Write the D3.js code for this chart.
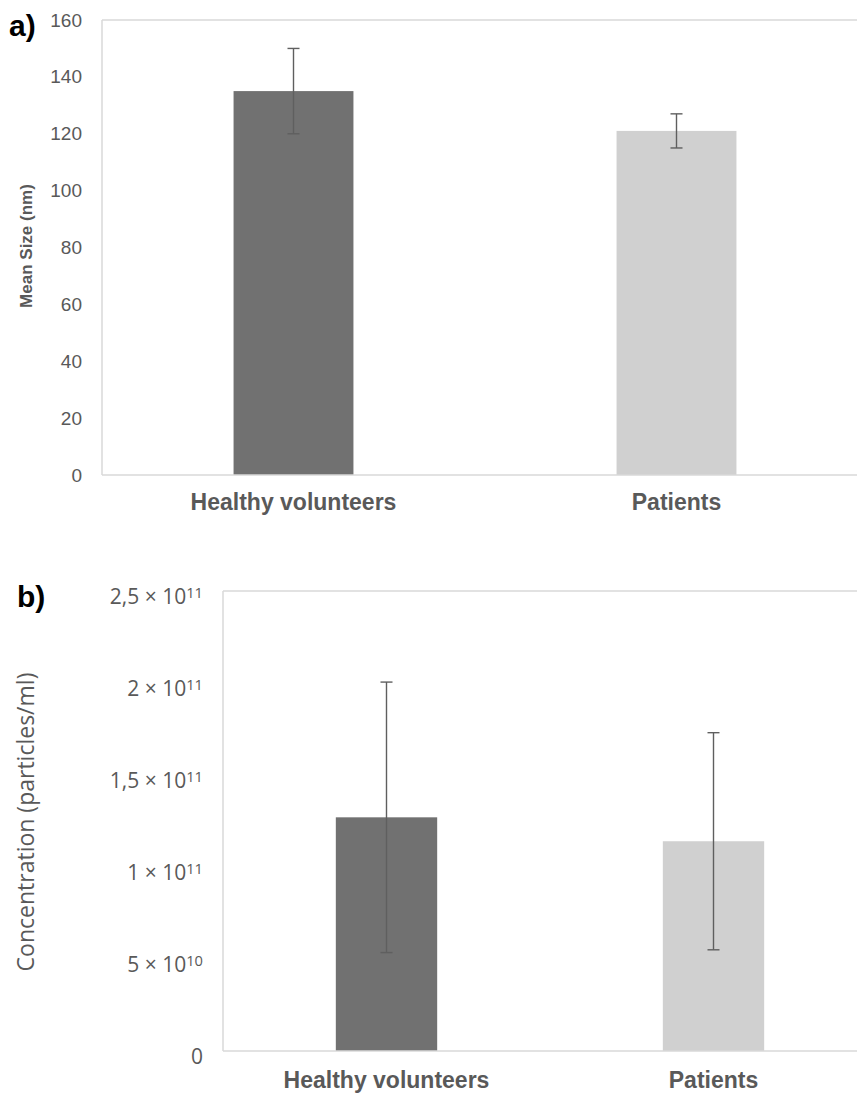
<!DOCTYPE html>
<html>
<head>
<meta charset="utf-8">
<script src="https://cdn.jsdelivr.net/npm/d3@7/dist/d3.min.js"></script>
<style>
body{margin:0;background:#fff;}
svg{display:block;}
</style>
</head>
<body>
<svg id="basicSVG" width="857" height="1097"></svg>
<script>
// data
var groups = ["Healthy volunteers","Patients"];
var sizeMean = [135, 121];
var sizeErr = [15, 6];
var concMean = [1.27e11, 1.14e11];
var concErr = [0.735e11, 0.59e11];
var sizeTicks = [0,20,40,60,80,100,120,140,160];
var concTicks = [0,5e10,1e11,1.5e11,2e11,2.5e11];
var concTickBase = ["0","5 × 10","1 × 10","1,5 × 10","2 × 10","2,5 × 10"];
var concTickExp = ["","10","11","11","11","11"];

var barColor = ["#717171","#d0d0d0"];
var axisColor = "#d9d9d9";
var textColor = "#595959";
var errColor = "#5f5f5f";

var svg = d3.select("#basicSVG");

function drawPanel(opt)
{
	var g = svg.append("g");
	var x = d3.scaleBand().domain(groups).range([opt.left, opt.right]).padding(0);
	var y = d3.scaleLinear().domain([0, opt.max]).range([opt.bottom, opt.top]);
	var bw = x.bandwidth()*opt.barRatio;

	//框線
	g.append("line").attr("x1",opt.left).attr("x2",opt.right).attr("y1",opt.top).attr("y2",opt.top)
		.attr("stroke",axisColor).attr("stroke-width",1.5);
	g.append("line").attr("x1",opt.left).attr("x2",opt.left).attr("y1",opt.top).attr("y2",opt.bottom)
		.attr("stroke",axisColor).attr("stroke-width",1.5);

	//bars
	g.selectAll("rect.bar").data(groups).enter().append("rect")
		.attr("class","bar")
		.attr("x",function(d){return x(d)+x.bandwidth()/2-bw/2;})
		.attr("width",bw)
		.attr("y",function(d,i){return y(opt.mean[i]);})
		.attr("height",function(d,i){return y(0)-y(opt.mean[i]);})
		.attr("fill",function(d,i){return barColor[i];});

	//bottom axis line
	g.append("line").attr("x1",opt.left).attr("x2",opt.right).attr("y1",opt.bottom).attr("y2",opt.bottom)
		.attr("stroke",axisColor).attr("stroke-width",1.5);

	//error bars
	var cap = 6;
	for(var i in groups)
	{
		var cx = x(groups[i])+x.bandwidth()/2;
		var hi = y(opt.mean[i]+opt.err[i]);
		var lo = y(opt.mean[i]-opt.err[i]);
		g.append("line").attr("x1",cx).attr("x2",cx).attr("y1",hi).attr("y2",lo)
			.attr("stroke",errColor).attr("stroke-width",1.4);
		g.append("line").attr("x1",cx-cap).attr("x2",cx+cap).attr("y1",hi).attr("y2",hi)
			.attr("stroke",errColor).attr("stroke-width",1.4);
		g.append("line").attr("x1",cx-cap).attr("x2",cx+cap).attr("y1",lo).attr("y2",lo)
			.attr("stroke",errColor).attr("stroke-width",1.4);
	}

	//y axis
	var yAxis = g.append("g").attr("transform","translate("+opt.left+",0)")
		.call(d3.axisLeft(y).tickValues(opt.ticks).tickSize(0).tickPadding(opt.tickPad));
	yAxis.select(".domain").remove();
	yAxis.selectAll("text").attr("fill",textColor)
		.style("font-family",opt.tickFont).style("font-size",opt.tickSize+"px");
	if(opt.tickBase)
	{
		yAxis.selectAll("text").each(function(d,i){
			var t = d3.select(this).text("");
			t.attr("dy", opt.tickDy);
			t.append("tspan").text(opt.tickBase[i]);
			if(opt.tickExp[i]!="")
				t.append("tspan").attr("dy","-0.45em").style("font-size",(opt.tickSize*0.7)+"px").text(opt.tickExp[i]);
		});
	}

	//x axis labels
	var xAxis = g.append("g").attr("transform","translate(0,"+opt.bottom+")")
		.call(d3.axisBottom(x).tickSize(0).tickPadding(opt.catPad));
	xAxis.select(".domain").remove();
	xAxis.selectAll("text").attr("fill",textColor).style("font-family","'Liberation Sans', Arial, sans-serif")
		.style("font-weight","bold").style("font-size",opt.catSize+"px");

	//y title
	g.append("text").text(opt.title)
		.attr("transform","translate("+opt.titleX+","+opt.titleY+") rotate(-90)")
		.attr("text-anchor","middle").attr("dominant-baseline","middle")
		.attr("fill",textColor).style("font-family",opt.titleFont)
		.style("font-weight",opt.titleWeight).style("font-size",opt.titleSize+"px");

	//panel letter
	g.append("text").text(opt.letter).attr("x",opt.letterX).attr("y",opt.letterY)
		.attr("fill","#000").style("font-family","'Liberation Sans', Arial, sans-serif")
		.style("font-weight","bold").style("font-size","30px");
}

drawPanel({
	left:102, right:868, top:20, bottom:475, max:160, barRatio:0.313,
	mean:sizeMean, err:sizeErr, ticks:sizeTicks,
	tickFont:"'Liberation Sans', Arial, sans-serif", tickSize:19, tickPad:20,
	catSize:23, catPad:19,
	title:"Mean Size (nm)", titleX:28, titleY:246, titleFont:"'Liberation Sans', Arial, sans-serif",
	titleWeight:"bold", titleSize:17,
	letter:"a)", letterX:9, letterY:36
});

drawPanel({
	left:223, right:877, top:591, bottom:1051, max:2.5e11, barRatio:0.31,
	mean:concMean, err:concErr, ticks:concTicks,
	tickBase:concTickBase, tickExp:concTickExp, tickDy:"0.6em",
	tickFont:"'Open Sans', sans-serif", tickSize:21, tickPad:20,
	catSize:23, catPad:21,
	title:"Concentration (particles/ml)", titleX:28, titleY:822, titleFont:"'Open Sans', sans-serif",
	titleWeight:"normal", titleSize:23,
	letter:"b)", letterX:17, letterY:607
});
</script>
</body>
</html>
